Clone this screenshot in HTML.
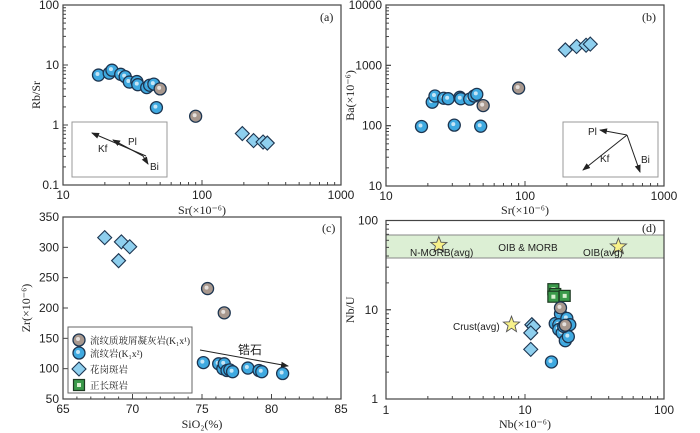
<!DOCTYPE html>
<html><head><meta charset="utf-8"><style>
body{margin:0;background:#fff;}
svg{display:block;font-family:"Liberation Sans","Noto Sans CJK SC",sans-serif;}
.serif{font-family:"Liberation Serif","Noto Serif CJK SC",serif;}
</style></head><body>
<svg id="c" width="700" height="433" viewBox="0 0 700 433"></svg>
<script>
// ---- data ----
const aBlueSr=[18,21.5,22.5,26,28,30,34,34.5,40,42,45,47];
const aBlueRatio=[6.8,7.3,8.2,7,6.4,5.2,5.3,4.7,4.2,4.6,4.8,1.95];
const aBrownSr=[50,90];
const aBrownRatio=[4,1.4];
const aDiaSr=[195,235,275,295];
const aDiaRatio=[0.72,0.55,0.52,0.5];
const bBlueSr=[18,21.5,22.5,26,28,31,34,34.5,40,43,45,48];
const bBlueBa=[97,245,310,285,280,102,295,280,275,310,330,98];
const bBrownSr=[50,90];
const bBrownBa=[215,420];
const bDiaSr=[195,235,275,295];
const bDiaBa=[1800,2050,2150,2250];
const cDiaSi=[68,69.2,69.8,69];
const cDiaZr=[316,309,301,278];
const cBrownSi=[75.4,76.6];
const cBrownZr=[232,192];
const cBlueSi=[75.1,76.2,76.5,76.6,76.8,77,77.2,78.3,79.1,79.3,80.8];
const cBlueZr=[110,108,100,108,97,98,95,101,97,95,92];
const dBlueNb=[15.5,16.5,18,17.5,17.5,18.5,20,19.5,20.5,21,19];
const dBlueU=[2.6,7,9,6.8,6,5.5,8,4.5,5,6.8,6.5];
const dBrownNb=[18,19.5];
const dBrownU=[10.5,6.7];
const dDiaNb=[11.2,11.5,11,11];
const dDiaU=[6.8,6.5,5.5,3.6];
const dSqNb=[16,16.5,16,19.3];
const dSqU=[17,15,14,14.3];
const dStarNb=[2.4,47,8];
const dStarU=[53,51,6.8];
const dStarLabels=["N-MORB(avg)","OIB(avg)","Crust(avg)"];
const logTicksA=["0.1","1","10","100"];
const logTicksSr=["10","100","1000"];
const logTicksBa=["10","100","1000","10000"];
const cXTicks=[65,70,75,80,85];
const cYTicks=[50,100,150,200,250,300,350];
const dTicks=["1","10","100"];
// ---- helpers ----
const S=document.getElementById('c');const NS='http://www.w3.org/2000/svg';
function el(t,a,p){const e=document.createElementNS(NS,t);for(const k in a)e.setAttribute(k,a[k]);(p||S).appendChild(e);return e;}
function txt(x,y,s,a){const e=el('text',Object.assign({x:x,y:y,'font-size':12,fill:'#222'},a||{}));e.textContent=s;return e;}
function logAx(x0,x1,lo,hi){return v=>x0+(Math.log10(v)-lo)/(hi-lo)*(x1-x0);}
function linAx(x0,x1,lo,hi){return v=>x0+(v-lo)/(hi-lo)*(x1-x0);}
function frame(L,T,R,B,name){const r=el('rect',{x:L,y:T,width:R-L,height:B-T,fill:'none',stroke:'#444','stroke-width':1.2});}
function logTicks(ax,lo,hi,fixed,pos,horiz){for(let d=lo;d<hi;d++)for(let m=1;m<=10;m++){const v=m*Math.pow(10,d);const p=ax(v);const len=(m==1||m==10)?5:3;
 if(horiz)el('line',{x1:p,x2:p,y1:fixed,y2:fixed-len,stroke:'#444'});else el('line',{x1:fixed,x2:fixed+len,y1:p,y2:p,stroke:'#444'});}}
function circ(x,y,col,name){const g=el('g',{});
 el('circle',{cx:x,cy:y,r:6,fill:col,stroke:'#1d3550','stroke-width':1.3},g);el('circle',{cx:x-1,cy:y-1,r:2,fill:'#fff',opacity:0.7},g);}
function blue(x,y){circ(x,y,'#3fa9e0','rhyolite-point');}
function brown(x,y){circ(x,y,'#a8988e','tuff-point');}
function dia(x,y){const e=el('path',{d:`M${x},${y-7}L${x+7},${y}L${x},${y+7}L${x-7},${y}Z`,fill:'#8ecfee',stroke:'#1d3550','stroke-width':1.1});}
function sq(x,y){const g=el('g',{});
 el('rect',{x:x-5.5,y:y-5.5,width:11,height:11,fill:'#3a9a4a',stroke:'#1d3a22','stroke-width':1.2},g);el('rect',{x:x-2,y:y-2,width:4,height:4,fill:'#d8f0d0'},g);}
function star(x,y,name){let d='';for(let i=0;i<10;i++){const r=i%2?3.6:8.5,a=-Math.PI/2+i*Math.PI/5;d+=(i?'L':'M')+(x+r*Math.cos(a)).toFixed(1)+','+(y+r*Math.sin(a)).toFixed(1);}
 const e=el('path',{d:d+'Z',fill:'#f7f18a',stroke:'#555','stroke-width':0.9});}
function arrowDef(){const m=el('marker',{id:'ar',markerWidth:8,markerHeight:8,refX:7,refY:4,orient:'auto'},el('defs',{}));el('path',{d:'M0,1L8,4L0,7Z',fill:'#222'},m);}
arrowDef();
function arrow(x1,y1,x2,y2,name){const e=el('line',{x1:x1,y1:y1,x2:x2,y2:y2,stroke:'#222','stroke-width':1,'marker-end':'url(#ar)'});}
// ---- panel a ----
{const L=63,R=341,T=5,B=185;const X=logAx(L,R,1,3),Y=logAx(B,T,-1,2);
 frame(L,T,R,B,'panel-a-frame');logTicks(X,1,3,B,0,true);logTicks(Y,-1,2,L,0,false);
 logTicksSr.forEach((s,i)=>txt(X(+s),199,s,{'text-anchor':'middle'}));
 logTicksA.forEach(s=>txt(L-4,Y(+s)+4,s,{'text-anchor':'end'}));
 txt((L+R)/2,214,'Sr(×10⁻⁶)',{'text-anchor':'middle',class:'serif'});
 txt(0,0,'Rb/Sr',{'text-anchor':'middle',class:'serif',transform:`translate(40,${(T+B)/2}) rotate(-90)`});
 txt(320,21,'(a)',{class:'serif','font-size':12});
 el('rect',{x:72,y:122,width:95,height:55,fill:'#fff',stroke:'#999'});
 arrow(146,156,92,133,'kf-vector');arrow(143,156,113,140,'pl-vector');arrow(143,156,148,164,'bi-vector');
 txt(98,152,'Kf',{'font-size':10});txt(128,145,'Pl',{'font-size':10});txt(150,170,'Bi',{'font-size':10});
 aDiaSr.forEach((v,i)=>dia(X(v),Y(aDiaRatio[i])));
 aBlueSr.forEach((v,i)=>blue(X(v),Y(aBlueRatio[i])));
 aBrownSr.forEach((v,i)=>brown(X(v),Y(aBrownRatio[i])));}
// ---- panel b ----
{const L=386,R=664,T=5,B=186;const X=logAx(L,R,1,3),Y=logAx(B,T,1,4);
 frame(L,T,R,B,'panel-b-frame');logTicks(X,1,3,B,0,true);logTicks(Y,1,4,L,0,false);
 logTicksSr.forEach(s=>txt(X(+s),200,s,{'text-anchor':'middle'}));
 logTicksBa.forEach(s=>txt(L-4,Y(+s)+4,s,{'text-anchor':'end'}));
 txt((L+R)/2,214,'Sr(×10⁻⁶)',{'text-anchor':'middle',class:'serif'});
 txt(0,0,'Ba(×10⁻⁶)',{'text-anchor':'middle',class:'serif',transform:`translate(354,${(T+B)/2}) rotate(-90)`});
 txt(642,21,'(b)',{class:'serif'});
 el('rect',{x:563,y:122,width:95,height:55,fill:'#fff',stroke:'#999'});
 arrow(627,135,600,130,'pl-vector-b');arrow(627,135,583,170,'kf-vector-b');arrow(627,135,640,172,'bi-vector-b');
 txt(588,135,'Pl',{'font-size':10});txt(600,162,'Kf',{'font-size':10});txt(641,163,'Bi',{'font-size':10});
 bDiaSr.forEach((v,i)=>dia(X(v),Y(bDiaBa[i])));
 bBlueSr.forEach((v,i)=>blue(X(v),Y(bBlueBa[i])));
 bBrownSr.forEach((v,i)=>brown(X(v),Y(bBrownBa[i])));}
// ---- panel c ----
{const L=63,R=341,T=217,B=399;const X=linAx(L,R,65,85),Y=linAx(B,T,50,350);
 frame(L,T,R,B,'panel-c-frame');
 cXTicks.forEach(v=>{el('line',{x1:X(v),x2:X(v),y1:B,y2:B-5,stroke:'#444'});txt(X(v),413,String(v),{'text-anchor':'middle'});});
 for(let v=66;v<85;v++)if(v%5)el('line',{x1:X(v),x2:X(v),y1:B,y2:B-2.5,stroke:'#444'});
 cYTicks.forEach(v=>{el('line',{x1:L,x2:L+5,y1:Y(v),y2:Y(v),stroke:'#444'});txt(L-4,Y(v)+4,String(v),{'text-anchor':'end'});});
 txt((L+R)/2,428,'SiO₂(%)',{'text-anchor':'middle',class:'serif'});
 txt(0,0,'Zr(×10⁻⁶)',{'text-anchor':'middle',class:'serif',transform:`translate(30,${(T+B)/2}) rotate(-90)`});
 txt(322,232,'(c)',{class:'serif'});
 arrow(200,350,288,366,'zircon-trend-arrow');txt(238,354,'锆石',{'font-size':12});
 cDiaSi.forEach((v,i)=>dia(X(v),Y(cDiaZr[i])));
 cBrownSi.forEach((v,i)=>brown(X(v),Y(cBrownZr[i])));
 cBlueSi.forEach((v,i)=>blue(X(v),Y(cBlueZr[i])));
 const lg=el('g',{});
 el('rect',{x:68,y:327,width:124,height:66,fill:'#fff',stroke:'#666'},lg);
 brown(79,340);blue(79,353);dia(79,369);sq(79,385);
 const labs=['流纹质玻屑凝灰岩(K₁x¹)','流纹岩(K₁x²)','花岗斑岩','正长斑岩'];
 labs.forEach((s,i)=>{const t=txt(90,[344,357,373,389][i],s,{'font-size':9.5,class:'serif'});});}
// ---- panel d ----
{const L=386,R=664,T=220.5,B=399;const X=logAx(L,R,0,2),Y=logAx(B,T,0,2);
 el('rect',{x:L,y:Y(68.8),width:R-L,height:Y(38)-Y(68.8),fill:'#dcefd4',stroke:'#888'});
 frame(L,T,R,B,'panel-d-frame');logTicks(X,0,2,B,0,true);logTicks(Y,0,2,L,0,false);
 dTicks.forEach(s=>{txt(X(+s),414,s,{'text-anchor':'middle'});txt(L-8,Y(+s)+4,s,{'text-anchor':'end'});});
 txt((L+R)/2,428,'Nb(×10⁻⁶)',{'text-anchor':'middle',class:'serif'});
 txt(0,0,'Nb/U',{'text-anchor':'middle',class:'serif',transform:`translate(354,${(T+B)/2}) rotate(-90)`});
 txt(642,232,'(d)',{class:'serif'});
 txt(528,251,'OIB & MORB',{'text-anchor':'middle','font-size':10});
 dStarNb.forEach((v,i)=>star(X(v),Y(dStarU[i]),'star-'+i));
 txt(410,256,dStarLabels[0],{'font-size':10});txt(583,256,dStarLabels[1],{'font-size':10});txt(453,330,dStarLabels[2],{'font-size':10});
 dDiaNb.forEach((v,i)=>dia(X(v),Y(dDiaU[i])));
 dSqNb.forEach((v,i)=>sq(X(v),Y(dSqU[i])));
 dBlueNb.forEach((v,i)=>blue(X(v),Y(dBlueU[i])));
 dBrownNb.forEach((v,i)=>brown(X(v),Y(dBrownU[i])));}
</script>
</body></html>
